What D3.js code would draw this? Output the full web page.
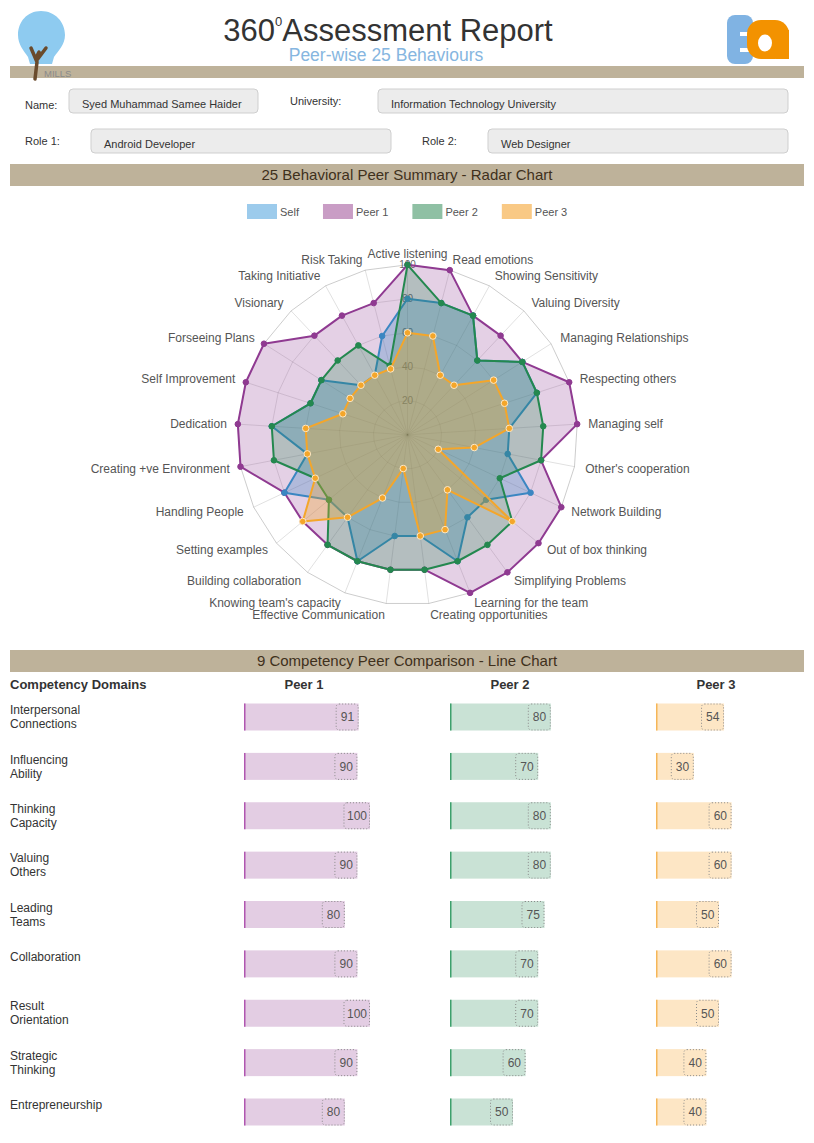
<!DOCTYPE html>
<html><head><meta charset="utf-8">
<script src="https://cdn.jsdelivr.net/npm/d3@7"></script>
<style>
body{margin:0;background:#fff;}
svg{display:block;font-family:"Liberation Sans",Arial,Helvetica,sans-serif;}
</style>
</head><body><svg id="c" width="814" height="1143"></svg>
<script>
// ---------- DATA ----------
const behaviours = ["Active listening","Read emotions","Showing Sensitivity","Valuing Diversity","Managing Relationships","Respecting others","Managing self","Other's cooperation","Network Building","Out of box thinking","Simplifying Problems","Learning for the team","Creating opportunities","Effective Communication","Knowing team's capacity","Building collaboration","Setting examples","Handling People","Creating +ve Environment","Dedication","Self Improvement","Forseeing Plans","Visionary","Taking Initiative","Risk Taking"];
const seriesNames = ["Self","Peer 1","Peer 2","Peer 3"];
const selfValues  = [80,80,80,60,80,80,60,60,80,60,60,80,60,60,80,60,60,80,60,80,60,60,40,40,60];
const peer1Values = [100,100,80,80,80,100,100,80,100,100,100,100,80,80,80,80,80,80,100,100,100,100,80,80,80];
const peer2Values = [100,80,80,60,80,80,80,80,60,80,80,80,80,80,80,80,60,60,80,80,60,60,60,60,42];
const peer3Values = [60,60,40,40,60,60,60,40,20,80,40,60,60,20,40,60,80,60,60,60,40,40,40,40,40];
const radarTicks = [20,40,60,80,100];

const domains = [["Interpersonal","Connections"],["Influencing","Ability"],["Thinking","Capacity"],["Valuing","Others"],["Leading","Teams"],["Collaboration"],["Result","Orientation"],["Strategic","Thinking"],["Entrepreneurship"]];
const peerColumns = ["Peer 1","Peer 2","Peer 3"];
const peer1Scores = [91,90,100,90,80,90,100,90,80];
const peer2Scores = [80,70,80,80,75,70,70,60,50];
const peer3Scores = [54,30,60,60,50,60,50,40,40];

const profileLabels = ["Name:","University:","Role 1:","Role 2:"];
const profileValues = ["Syed Muhammad Samee Haider","Information Technology University","Android Developer","Web Designer"];

// ---------- STYLES ----------
const lineColors = {"Self":"#3b86c2","Peer 1":"#8f3a91","Peer 2":"#24884f","Peer 3":"#f4a62a"};
const fillColors = {"Self":"rgba(58,135,195,0.30)","Peer 1":"rgba(143,58,145,0.24)","Peer 2":"rgba(36,136,79,0.25)","Peer 3":"rgba(244,166,42,0.33)"};
const legendColors = {"Self":"#9ccbec","Peer 1":"#c99dc5","Peer 2":"#8fc0a4","Peer 3":"#f9c985"};
const barFill = {"Peer 1":"#e3cde3","Peer 2":"#c9e2d5","Peer 3":"#fde6c5"};
const barEdge = {"Peer 1":"#b056b0","Peer 2":"#3da06c","Peer 3":"#f5b658"};
const tan = "#beb29a";

const svg = d3.select("#c");

// ---------- HEADER ----------
const title = svg.append("text").attr("x",388).attr("y",41).attr("text-anchor","middle").attr("font-size",31).attr("fill","#333");
title.append("tspan").text("360");
title.append("tspan").attr("font-size",13).attr("dy",-15).text("0");
title.append("tspan").attr("dy",15).text("Assessment Report");
svg.append("text").attr("x",386).attr("y",61).attr("text-anchor","middle").attr("font-size",17.5).attr("fill","#86b6e0").text("Peer-wise 25 Behaviours");
svg.append("rect").attr("x",10).attr("y",66).attr("width",794).attr("height",12).attr("fill",tan);

const logo = svg.append("g");
logo.append("path").attr("d","M41,11 C27,11 18,22 18,35 C18,45 24,51 28,57 L30,64 L52,64 L54,57 C58,51 65,45 65,35 C65,22 55,11 41,11 Z").attr("fill","#8ecbf0");
logo.append("path").attr("d","M35,79 L37,62 L31,48 M37,60 L46,48 M36.5,57 L39,52").attr("stroke","#6a4b2c").attr("stroke-width",3.5).attr("fill","none").attr("stroke-linecap","round");
logo.append("text").attr("x",44).attr("y",77).attr("font-size",9.5).attr("fill","#8a8a8a").text("MILLS");

const ea = svg.append("g");
ea.append("rect").attr("x",727).attr("y",15).attr("width",26).attr("height",49).attr("rx",8).attr("fill","#80b3e3");
ea.append("rect").attr("x",740).attr("y",32).attr("width",14).attr("height",4).attr("fill","#fff");
ea.append("rect").attr("x",740).attr("y",48).attr("width",14).attr("height",4).attr("fill","#fff");
ea.append("rect").attr("x",747).attr("y",20).attr("width",42).attr("height",39).attr("rx",14).attr("fill","#f39200");
ea.append("rect").attr("x",776).attr("y",30).attr("width",13).attr("height",29).attr("fill","#f39200");
ea.append("ellipse").attr("cx",765).attr("cy",43).attr("rx",7).attr("ry",8.5).attr("fill","#fff");

// ---------- PROFILE FORM ----------
const formBoxes = [
  {lx:25, ly:105, bx:69, by:89, bw:189},
  {lx:290, ly:101, bx:378, by:89, bw:410},
  {lx:25, ly:141, bx:91, by:129, bw:300},
  {lx:422, ly:141, bx:488, by:129, bw:300}
];
formBoxes.forEach((b,i)=>{
  svg.append("text").attr("x",b.lx).attr("y",b.ly).attr("dy","0.35em").attr("font-size",11).attr("fill","#333").text(profileLabels[i]);
  svg.append("rect").attr("x",b.bx).attr("y",b.by).attr("width",b.bw).attr("height",24).attr("rx",4)
     .attr("fill","#ececec").attr("stroke","#cfcfcf");
  svg.append("text").attr("x",b.bx+13).attr("y",b.by+15).attr("dy","0.35em").attr("font-size",11).attr("fill","#333").text(profileValues[i]);
});

// ---------- SECTION HEADER 1 ----------
function sectionHeader(y, label){
  svg.append("rect").attr("x",10).attr("y",y).attr("width",794).attr("height",22).attr("fill",tan);
  svg.append("text").attr("x",407).attr("y",y+11).attr("dy","0.36em").attr("text-anchor","middle").attr("font-size",15).attr("fill","#3f301c").text(label);
}
sectionHeader(164,"25 Behavioral Peer Summary - Radar Chart");

// ---------- LEGEND ----------
let lx = 247;
seriesNames.forEach(s=>{
  svg.append("rect").attr("x",lx).attr("y",204).attr("width",30).attr("height",15).attr("fill",legendColors[s]);
  const t = svg.append("text").attr("x",lx+33).attr("y",212).attr("dy","0.35em").attr("font-size",11).attr("fill","#555").text(s);
  lx += 33 + t.node().getComputedTextLength() + 24;
});

// ---------- RADAR ----------
const cx = 407.5, cy = 434.8, R = 170;
const n = behaviours.length;
const angle = d3.scaleLinear().domain([0,n]).range([0,2*Math.PI]);
const rScale = d3.scaleLinear().domain([0,100]).range([0,R]);
const radar = svg.append("g").attr("transform",`translate(${cx},${cy})`);
const idx = d3.range(n);

radarTicks.forEach(t=>{
  radar.append("path")
    .attr("d", d3.lineRadial().angle(i=>angle(i)).radius(()=>rScale(t)).curve(d3.curveLinearClosed)(idx))
    .attr("fill","none").attr("stroke", t===100 ? "rgba(0,0,0,0.2)" : "rgba(0,0,0,0.12)").attr("stroke-width",1);
});
idx.forEach(i=>{
  const a = angle(i);
  radar.append("line").attr("x1",0).attr("y1",0)
    .attr("x2",rScale(100)*Math.sin(a)).attr("y2",-rScale(100)*Math.cos(a))
    .attr("stroke","rgba(0,0,0,0.12)");
});
radarTicks.forEach(t=>{
  radar.append("text").attr("x",0).attr("y",-rScale(t)).attr("dy","0.35em").attr("text-anchor","middle")
    .attr("font-size",10).attr("fill","#666").text(t);
});
behaviours.forEach((b,i)=>{
  const a = angle(i), rr = R + 11;
  const deg = i*360/n;
  const anchor = (deg===0||deg===180) ? "middle" : (deg<180 ? "start" : "end");
  radar.append("text").attr("x",rr*Math.sin(a)).attr("y",-rr*Math.cos(a)).attr("dy","0.35em")
    .attr("text-anchor",anchor).attr("font-size",12).attr("fill","#555").text(b);
});

const seriesData = {"Self":selfValues,"Peer 1":peer1Values,"Peer 2":peer2Values,"Peer 3":peer3Values};
const drawOrder = ["Peer 1","Self","Peer 2","Peer 3"];
const radial = d3.lineRadial().angle((d,i)=>angle(i)).radius(d=>rScale(d)).curve(d3.curveLinearClosed);
drawOrder.forEach(s=>{
  const vals = seriesData[s];
  const g = radar.append("g");
  g.append("path").attr("d",radial(vals)).attr("fill",fillColors[s]).attr("stroke",lineColors[s]).attr("stroke-width",2).attr("stroke-linejoin","round");
  g.selectAll("circle").data(vals).join("circle")
    .attr("cx",(d,i)=>rScale(d)*Math.sin(angle(i)))
    .attr("cy",(d,i)=>-rScale(d)*Math.cos(angle(i)))
    .attr("r", s==="Peer 3" ? 3.3 : 2.8)
    .attr("fill",lineColors[s])
    .attr("stroke", s==="Peer 3" ? "#fde9c8" : lineColors[s]).attr("stroke-width",1);
});

// ---------- SECTION HEADER 2 ----------
sectionHeader(650,"9 Competency Peer Comparison - Line Chart");

// ---------- BAR TABLE ----------
const rowY = d3.scalePoint().domain(d3.range(domains.length)).range([717,1112]);
const colX = d3.scalePoint().domain(peerColumns).range([244,656]);
const barLen = d3.scaleLinear().domain([0,100]).range([0,126]);
const scores = {"Peer 1":peer1Scores,"Peer 2":peer2Scores,"Peer 3":peer3Scores};
const barH = 27;

svg.append("text").attr("x",10).attr("y",684).attr("dy","0.35em").attr("font-size",13).attr("font-weight","bold").attr("fill","#333").text("Competency Domains");
peerColumns.forEach(p=>{
  svg.append("text").attr("x",colX(p)+60).attr("y",684).attr("dy","0.35em").attr("text-anchor","middle")
    .attr("font-size",13).attr("font-weight","bold").attr("fill","#333").text(p);
});

domains.forEach((lines,r)=>{
  const y = rowY(r);
  const t = svg.append("text").attr("font-size",12).attr("fill","#333");
  lines.forEach((ln,k)=>{
    t.append("tspan").attr("x",10).attr("y",y-7+k*14).attr("dy","0.35em").text(ln);
  });
});

peerColumns.forEach(p=>{
  scores[p].forEach((v,r)=>{
    const x0 = colX(p), y = rowY(r), w = barLen(v);
    const g = svg.append("g");
    g.append("rect").attr("x",x0).attr("y",y-barH/2).attr("width",w).attr("height",barH).attr("fill",barFill[p]);
    g.append("line").attr("x1",x0+0.75).attr("x2",x0+0.75).attr("y1",y-barH/2).attr("y2",y+barH/2)
      .attr("stroke",barEdge[p]).attr("stroke-width",1.5);
    const lbl = g.append("text").attr("font-size",12).attr("fill","#555").attr("text-anchor","middle").attr("dy","0.36em").text(v);
    const tl = lbl.node().getComputedTextLength();
    const bw = Math.max(22.5, tl + 6);
    const bx = x0 + w - bw;
    g.insert("rect","text").attr("x",bx).attr("y",y-barH/2+0.5).attr("width",bw-0.5).attr("height",barH-1).attr("rx",3)
      .attr("fill",barFill[p]).attr("stroke","#8a8a8a").attr("stroke-width",1).attr("stroke-dasharray","1,2");
    lbl.attr("x",bx+bw/2).attr("y",y);
  });
});
</script>
</body></html>
